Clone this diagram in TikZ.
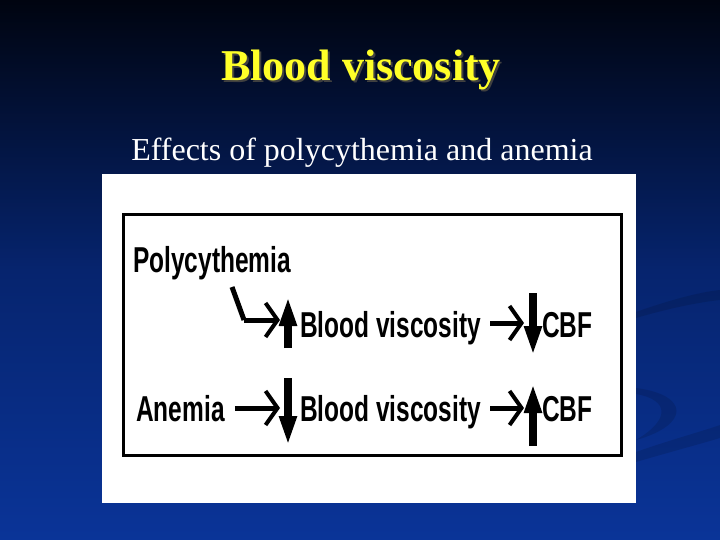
\documentclass[tikz,border=0pt]{standalone}
\usepackage{fontspec}
\usepackage{tikz}
\usetikzlibrary{arrows.meta}
\setmainfont{Liberation Serif}
\newfontfamily\narrowsans[FakeStretch=0.68]{Liberation Sans}
\definecolor{slidetop}{RGB}{0,4,16}
\definecolor{slidemid}{RGB}{6,36,110}
\definecolor{slidebot}{RGB}{10,52,152}
\definecolor{titleyel}{RGB}{255,255,40}
\tikzset{
  boxtext/.style={inner sep=0pt, anchor=base west, font=\narrowsans\bfseries\fontsize{36}{36}\selectfont},
  thinarrow/.style={line width=5pt, -{Straight Barb[length=12pt,width=34pt,line width=4pt]}},
  fatarrow/.style={line width=8pt, -{Triangle[length=30pt,width=16pt]}}
}
\begin{document}
\begin{tikzpicture}[x=1pt,y=-1pt]
\useasboundingbox (0,0) rectangle (720,540);
\shade [top color=slidetop, bottom color=slidebot, middle color=slidemid] (0,0) rectangle (720,540);
% faint swirl on the right
\fill [black, opacity=0.12] (636,312) .. controls (670,300) and (700,292) .. (720,290) -- (720,300) .. controls (700,302) and (670,308) .. (636,318) -- cycle;
\fill [black, opacity=0.12] (636,388) .. controls (690,395) and (690,425) .. (636,440) .. controls (670,420) and (670,400) .. (636,394) -- cycle;
\fill [black, opacity=0.12] (636,452) .. controls (670,440) and (700,432) .. (720,425) -- (720,438) .. controls (700,444) and (670,452) .. (636,462) -- cycle;

% titles
\node [anchor=base] (title) at (361,81) {\fontsize{44}{44}\selectfont\bfseries
  \rlap{\kern2pt\raisebox{-2pt}{\color{black!75}Blood viscosity}}\color{titleyel}Blood viscosity};
\node [anchor=base, text=white] (sub) at (362,161) {\fontsize{32}{32}\selectfont Effects of polycythemia and anemia};

% the figure
\fill [white] (102,174) rectangle (636,503);
\draw [line width=3pt] (123,215) rectangle (621,455);

\node [boxtext] (poly) at (133,272) {Polycythemia};
\node [boxtext] (visc1) at (300,337) {Blood viscosity};
\node [boxtext] (cbf1) at (542,337) {CBF};
\node [boxtext] (anem) at (136,421) {Anemia};
\node [boxtext] (visc2) at (300,421) {Blood viscosity};
\node [boxtext] (cbf2) at (542,421) {CBF};

\coordinate (bend) at (244,320);
\draw [line width=5pt] (232,287) -- (bend);
\draw [thinarrow] (bend) -- (280,320);
\draw [thinarrow] ([xshift=10pt,yshift=13pt]anem.base east) -- (280,408);
\draw [thinarrow] ([xshift=9pt,yshift=14pt]visc1.base east) -- (524,323);
\draw [thinarrow] ([xshift=9pt,yshift=13pt]visc2.base east) -- (524,408);

% up and down marks
\coordinate (up1a) at (288,348); \coordinate (up1b) at (288,296);
\coordinate (dn1a) at (533,293); \coordinate (dn1b) at (533,356);
\coordinate (dn2a) at (288,378); \coordinate (dn2b) at (288,446);
\coordinate (up2a) at (533,446); \coordinate (up2b) at (533,383);
\draw [fatarrow] (up1a) -- (up1b);
\draw [fatarrow] (dn1a) -- (dn1b);
\draw [fatarrow] (dn2a) -- (dn2b);
\draw [fatarrow] (up2a) -- (up2b);
\end{tikzpicture}
\end{document}
